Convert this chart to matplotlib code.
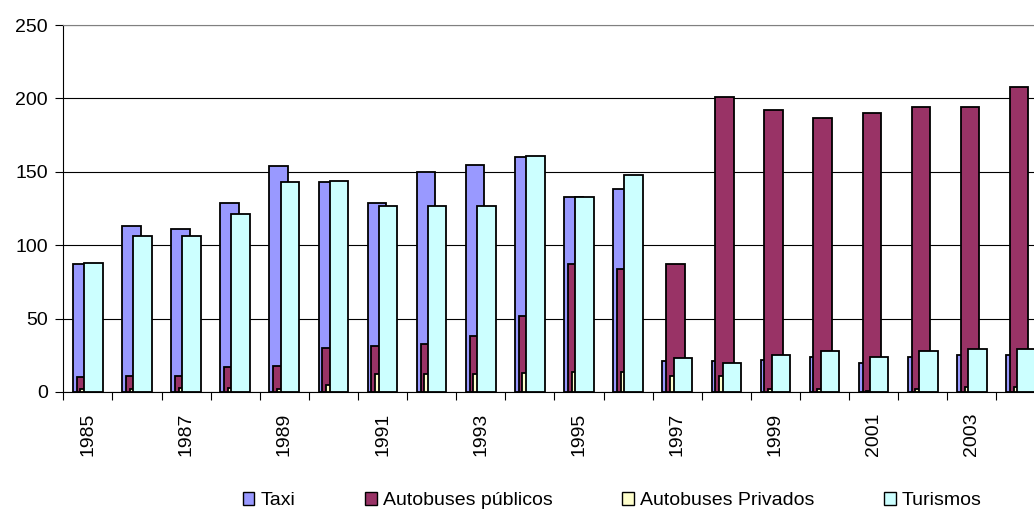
import numpy as np
import matplotlib.pyplot as plt
from matplotlib.patches import Patch

plt.rcParams['font.family'] = ['Liberation Sans', 'DejaVu Sans']

# Series values
years = list(range(1985, 2005))
taxi = [87, 113, 111, 129, 154, 143, 129, 150, 155, 160,
        133, 138, 21, 21, 22, 24, 20, 24, 25, 25]
bus_publicos = [10, 11, 11, 17, 18, 30, 31, 33, 38, 52,
                87, 84, 87, 201, 192, 187, 190, 194, 194, 208]
bus_privados = [2, 2, 3, 2.5, 2, 5, 12, 12, 12, 13,
                13.5, 13.5, 11, 11, 2, 2, 1, 2, 3.5, 3.5]
turismos = [88, 106, 106, 121, 143, 144, 127, 127, 127, 161,
            133, 148, 23, 20, 25, 28, 24, 28, 29, 29]

series = [
    ("Taxi", taxi, "#9999FF"),
    ("Autobuses públicos", bus_publicos, "#993366"),
    ("Autobuses Privados", bus_privados, "#FFFFCC"),
    ("Turismos", turismos, "#CCFFFF"),
]

fig = plt.figure(figsize=(10.34, 5.11), dpi=100)
ax = fig.add_axes([0.0612, 0.2329, 0.95, 0.718])

x = np.arange(len(years))
width = 0.377
step = 0.0754
start = 0.5 - (3 * step + width) / 2

# overlapping bars, later series drawn on top
for k, (name, vals, color) in enumerate(series):
    ax.bar(x + start + k * step, vals, width=width, align='edge',
           color=color, edgecolor='black', linewidth=1.3, zorder=2 + k)

ax.set_xlim(0, len(years))
ax.set_ylim(0, 250)
ax.set_yticks([0, 50, 100, 150, 200, 250])
ax.yaxis.grid(True, color='black', linewidth=0.8, zorder=0)
ax.set_axisbelow(True)

# category boundary ticks, year labels every other category
ax.set_xticks(np.arange(len(years) + 1))
ax.set_xticklabels([])
ax.set_xticks(x[::2] + 0.5, minor=True)
ax.set_xticklabels([str(y) for y in years[::2]], minor=True, rotation=90,
                   fontsize=14)
ax.tick_params(axis='x', which='major', length=6, color='black', direction='out')
ax.tick_params(axis='x', which='minor', length=0, pad=15)
ax.tick_params(axis='y', length=6, labelsize=14, pad=5)

ax.spines['right'].set_visible(False)
ax.spines['top'].set_color('#808080')
ax.spines['left'].set_color('black')
ax.spines['bottom'].set_color('black')

handles = [Patch(facecolor=c, edgecolor='black', linewidth=1.0) for _, _, c in series]
labels = [n for n, _, _ in series]
fig.legend(handles, labels, loc='center', bbox_to_anchor=(0.592, 0.02),
           ncol=4, frameon=False, fontsize=14, handlelength=0.6,
           handleheight=0.6, handletextpad=0.3, columnspacing=3.6)

fig.savefig("out.png", dpi=100)
